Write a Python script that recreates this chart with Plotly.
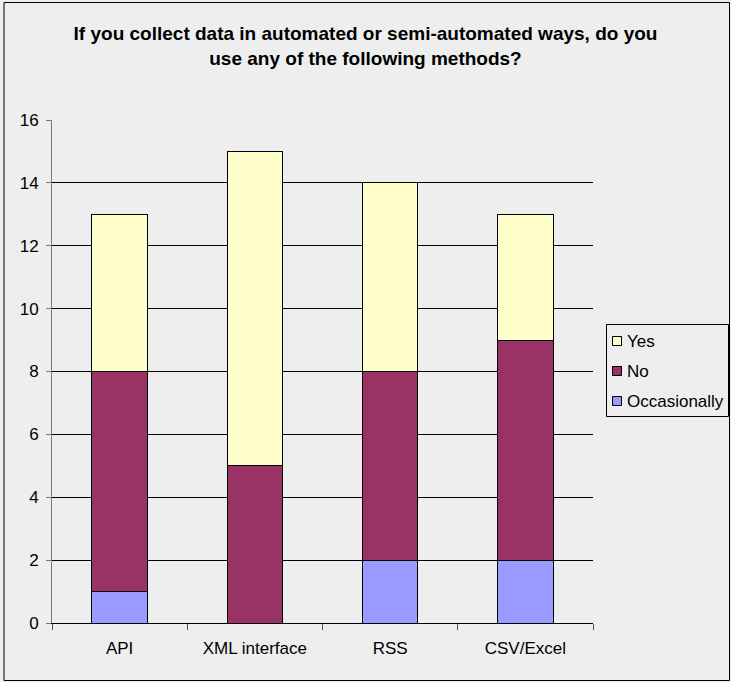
import plotly.graph_objects as go

categories = ["API", "XML interface", "RSS", "CSV/Excel"]
series_names = ["Occasionally", "No", "Yes"]
occasionally = [1, 0, 2, 2]
no = [7, 5, 6, 7]
yes = [5, 10, 6, 4]
colors = {"Occasionally": "#9999FF", "No": "#993366", "Yes": "#FFFFCC"}
y_ticks = [0, 2, 4, 6, 8, 10, 12, 14, 16]

W, H = 731, 682
L, R, T, B = 52, 593, 120, 623
pw, ph = R - L, B - T

def px(x):
    return (x - L) / pw

def py(y):
    return (B - y) / ph

fig = go.Figure()
for name, vals in zip(series_names, [occasionally, no, yes]):
    fig.add_trace(go.Bar(x=categories, y=vals, name=name,
                         marker=dict(color=colors[name], line=dict(color="black", width=1)),
                         width=0.41, showlegend=False))

shapes = [dict(type="rect", xref="paper", yref="paper",
               x0=px(4), x1=px(729.5), y0=py(680.5), y1=py(2.5),
               line=dict(color="black", width=1), fillcolor="rgba(0,0,0,0)",
               layer="below")]
annotations = []
# legend box
shapes.append(dict(type="rect", xref="paper", yref="paper",
                   x0=px(606.5), x1=px(728.5), y0=py(416.5), y1=py(324.5),
                   line=dict(color="black", width=1), fillcolor="#EEEEEE", layer="above"))
for i, name in enumerate(["Yes", "No", "Occasionally"]):
    cy = 341 + 30 * i
    shapes.append(dict(type="rect", xref="paper", yref="paper",
                       x0=px(612.5), x1=px(621.5), y0=py(cy + 4.5), y1=py(cy - 4.5),
                       line=dict(color="black", width=1), fillcolor=colors[name],
                       layer="above"))
    annotations.append(dict(text=name, xref="paper", yref="paper",
                            x=px(625), y=py(cy), xanchor="left", yanchor="middle",
                            showarrow=False, font=dict(size=17)))

fig.update_layout(
    width=W, height=H,
    barmode="stack",
    paper_bgcolor="#EEEEEE", plot_bgcolor="#EEEEEE",
    margin=dict(l=L, r=W - R, t=T, b=H - B, autoexpand=False),
    font=dict(family="Liberation Sans, Arial, sans-serif", size=16, color="black"),
    title=dict(text="<b>If you collect data in automated or semi-automated ways, do you<br>use any of the following methods?</b>",
               x=0.5, xref="container", xanchor="center",
               y=1 - 40 / H, yref="container", yanchor="top",
               font=dict(size=19)),
    showlegend=False,
    xaxis=dict(showline=True, linecolor="black", linewidth=1,
               ticks="outside", tickson="boundaries", ticklen=6, tickcolor="#555555",
               showgrid=False, tickfont=dict(size=17), ticklabelstandoff=10),
    yaxis=dict(range=[0, 16], tickvals=y_ticks, showline=True, linecolor="#777777", linewidth=1,
               ticks="outside", ticklen=5, tickcolor="#777777",
               showgrid=True, gridcolor="black", gridwidth=1, zeroline=False,
               tickfont=dict(size=17), ticklabelstandoff=4),
    shapes=shapes,
    annotations=annotations,
)

fig.write_html("out.html", config={"displayModeBar": False},
               post_script="document.body.style.margin='0';document.body.style.overflow='hidden';")
